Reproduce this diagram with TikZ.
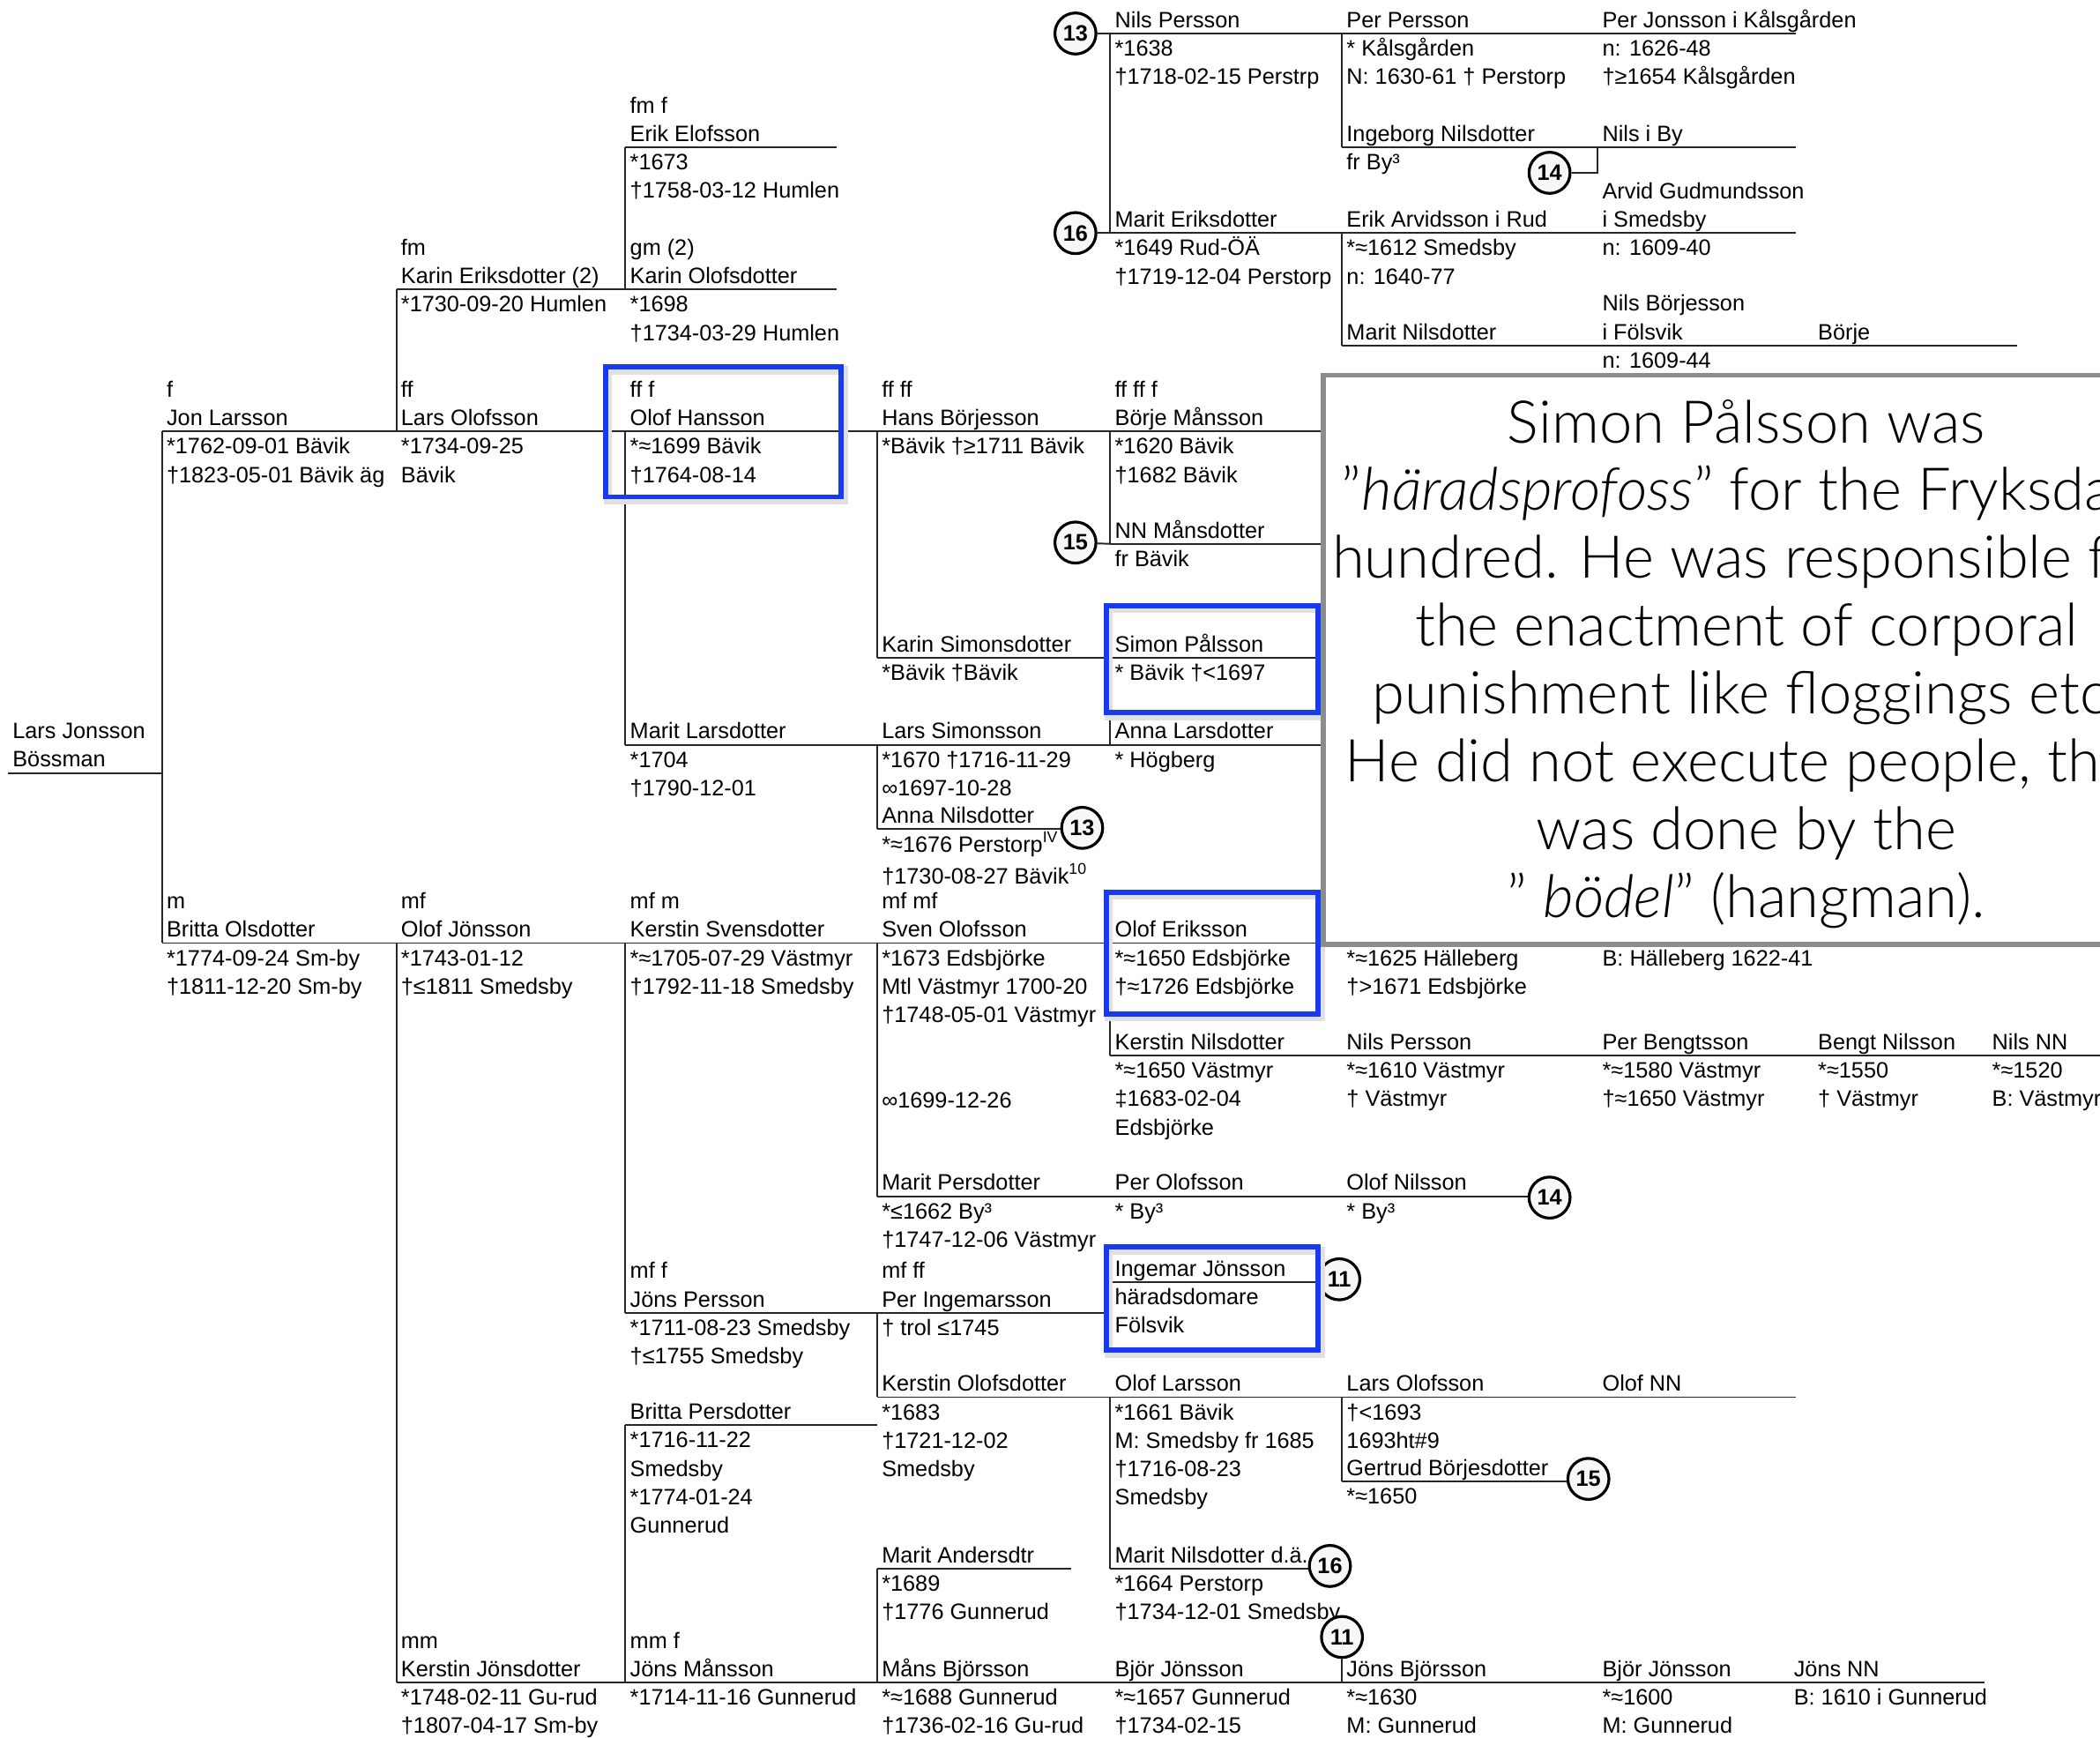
\documentclass[tikz,border=0pt]{standalone}
\usepackage{fontspec}
\setmainfont{Liberation Sans}
\IfFontExistsTF{Lato Light}{%
  \IfFontExistsTF{Lato Light Italic}%
    {\newfontfamily\notefamily{Lato Light}[ItalicFont={Lato Light Italic}]}%
    {\newfontfamily\notefamily{Lato Light}}%
  \newcommand{\notesize}{\fontsize{18.8}{21.6}\selectfont}}%
  {\newfontfamily\notefamily{Liberation Sans}%
  \newcommand{\notesize}{\fontsize{17.9}{21.6}\selectfont}}
\definecolor{hiblue}{RGB}{24,58,240}
\definecolor{notegray}{RGB}{138,140,142}
\newcommand{\chartfont}{\fontsize{7.1}{9.07}\selectfont}
\newcommand{\notefont}{\notefamily\notesize}
\tikzstyle{tie} = [draw, line width=0.55pt, color=black!85]
\tikzstyle{person} = [anchor=south west, inner sep=0pt, align=left, font=\chartfont]
\tikzstyle{info} = [person, anchor=north west]
\tikzstyle{refno} = [draw, circle, line width=0.9pt, fill=gray!6, inner sep=0pt, minimum size=0.46cm, font=\chartfont\bfseries]
\tikzstyle{hilite} = [draw=hiblue, line width=1.6pt]
\tikzstyle{hishade} = [draw=black!12, line width=2.6pt]
\tikzstyle{note} = [draw=notegray, fill=white, line width=1.5pt]
\tikzstyle{notetext} = [align=center, inner sep=0pt, font=\notefont]
\newcommand{\pers}[6]{
  \coordinate (#1) at (#2,#3);
  \coordinate (#1e) at (#4,#3);
  \path [tie] (#1) -- (#1e);
  \node (#1n) [person] at ({#2+3},{#3+2.4}) {\strut #5\strut};
  \node (#1d) [info] at ({#2+3},{#3+1.5}) {\strut #6\strut};}
\newcommand{\circno}[3]{
  \node (#1) [refno] at (#2) {#3};}
\newcommand{\hibox}[4]{
  \draw [hishade] ({#1+2},{#2+2.5}) rectangle ({#3+2},{#4+2.5});
  \draw [hilite] (#1,#2) rectangle (#3,#4);}

\begin{document}
\begin{tikzpicture}[x=0.015cm, y=-0.015cm]
  \useasboundingbox (0,0) rectangle (1568,1297);
  \fill [white] (0,0) rectangle (1568,1297);
  \clip (0,0) rectangle (1568,1297);

  % Draw persons, upper half
  \pers{larsJ}{6}{577}{121}{Lars Jonsson\\Bössman}{}
  \pers{jonL}{121}{322}{296}{f\\Jon Larsson}{*1762-09-01 Bävik\\†1823-05-01 Bävik äg}
  \pers{larsO}{296}{322}{467}{ff\\Lars Olofsson}{*1734-09-25\\Bävik}
  \pers{karinE}{296}{216}{467}{fm\\Karin Eriksdotter (2)}{*1730-09-20 Humlen}
  \pers{erikE}{467}{110}{625}{fm f\\Erik Elofsson}{*1673\\†1758-03-12 Humlen}
  \pers{karinO}{467}{216}{625}{gm (2)\\Karin Olofsdotter}{*1698\\†1734-03-29 Humlen}
  \pers{olofH}{467}{322}{655}{ff f\\Olof Hansson}{*≈1699 Bävik\\†1764-08-14}
  \pers{hansB}{655}{322}{829}{ff ff\\Hans Börjesson}{*Bävik †≥1711 Bävik}
  \pers{borjeM}{829}{322}{988}{ff ff f\\Börje Månsson}{*1620 Bävik\\†1682 Bävik}
  \pers{nnM}{829}{406}{988}{NN Månsdotter}{fr Bävik}
  \pers{karinS}{655}{491}{829}{Karin Simonsdotter}{*Bävik †Bävik}
  \pers{simonP}{829}{491}{988}{Simon Pålsson}{* Bävik †<1697}
  \pers{maritL}{467}{556}{655}{Marit Larsdotter}{*1704\\†1790-12-01}
  \pers{larsS}{655}{556}{829}{Lars Simonsson}{*1670 †1716-11-29\\∞1697-10-28}
  \pers{annaL}{829}{556}{988}{Anna Larsdotter}{* Högberg}
  \pers{annaN}{655}{619}{808}{Anna Nilsdotter}{*≈1676 Perstorp\textsuperscript{IV}\\†1730-08-27 Bävik\textsuperscript{10}}
  \pers{nilsP}{829}{25}{1002}{Nils Persson}{*1638\\†1718-02-15 Perstrp}
  \pers{perP}{1002}{25}{1193}{Per Persson}{* Kålsgården\\N: 1630-61 † Perstorp}
  \pers{perJ}{1193}{25}{1341}{Per Jonsson i Kålsgården}{n: 1626-48\\†≥1654 Kålsgården}
  \pers{ingebN}{1002}{110}{1193}{Ingeborg Nilsdotter}{fr By³}
  \pers{nilsBy}{1193}{110}{1341}{Nils i By}{}
  \pers{maritEr}{829}{174}{1002}{Marit Eriksdotter}{*1649 Rud-ÖÄ\\†1719-12-04 Perstorp}
  \pers{erikA}{1002}{174}{1193}{Erik Arvidsson i Rud}{*≈1612 Smedsby\\n: 1640-77}
  \pers{arvidG}{1193}{174}{1341}{Arvid Gudmundsson\\i Smedsby}{n: 1609-40}
  \pers{maritN}{1002}{258}{1193}{Marit Nilsdotter}{}
  \pers{nilsB}{1193}{258}{1354}{Nils Börjesson\\i Fölsvik}{n: 1609-44}
  \pers{borje}{1354}{258}{1506}{Börje}{}

  % Draw persons, lower half
  \pers{brittaO}{121}{704}{296}{m\\Britta Olsdotter}{*1774-09-24 Sm-by\\†1811-12-20 Sm-by}
  \pers{olofJ}{296}{704}{467}{mf\\Olof Jönsson}{*1743-01-12\\†≤1811 Smedsby}
  \pers{kerstinS}{467}{704}{655}{mf m\\Kerstin Svensdotter}{*≈1705-07-29 Västmyr\\†1792-11-18 Smedsby}
  \pers{svenO}{655}{704}{829}{mf mf\\Sven Olofsson}{*1673 Edsbjörke\\Mtl Västmyr 1700-20\\†1748-05-01 Västmyr}
  \node (svenOm) [info] at (658,812) {\strut ∞1699-12-26\strut};
  \pers{olofE}{829}{704}{1002}{Olof Eriksson}{*≈1650 Edsbjörke\\†≈1726 Edsbjörke}
  \pers{olofEf}{1002}{704}{1193}{}{*≈1625 Hälleberg\\†>1671 Edsbjörke}
  \pers{olofEff}{1193}{704}{1341}{}{B: Hälleberg 1622-41}
  \pers{kerstinN}{829}{788}{1002}{Kerstin Nilsdotter}{*≈1650 Västmyr\\‡1683-02-04\\Edsbjörke}
  \pers{nilsP2}{1002}{788}{1193}{Nils Persson}{*≈1610 Västmyr\\† Västmyr}
  \pers{perB}{1193}{788}{1354}{Per Bengtsson}{*≈1580 Västmyr\\†≈1650 Västmyr}
  \pers{bengtN}{1354}{788}{1484}{Bengt Nilsson}{*≈1550\\† Västmyr}
  \pers{nilsNN}{1484}{788}{1568}{Nils NN}{*≈1520\\B: Västmyr}
  \pers{maritP}{655}{893}{829}{Marit Persdotter}{*≤1662 By³\\†1747-12-06 Västmyr}
  \pers{perO}{829}{893}{1002}{Per Olofsson}{* By³}
  \pers{olofN}{1002}{893}{1157}{Olof Nilsson}{* By³}
  \pers{ingemarJ}{829}{957}{1000}{Ingemar Jönsson}{häradsdomare\\Fölsvik}
  \pers{jonsP}{467}{980}{655}{mf f\\Jöns Persson}{*1711-08-23 Smedsby\\†≤1755 Smedsby}
  \pers{perI}{655}{980}{829}{mf ff\\Per Ingemarsson}{† trol ≤1745}
  \pers{kerstinO}{655}{1043}{829}{Kerstin Olofsdotter}{*1683\\†1721-12-02\\Smedsby}
  \pers{olofL}{829}{1043}{1002}{Olof Larsson}{*1661 Bävik\\M: Smedsby fr 1685\\†1716-08-23\\Smedsby}
  \pers{larsO2}{1002}{1043}{1193}{Lars Olofsson}{†<1693\\1693ht\#9}
  \pers{olofNN}{1193}{1043}{1341}{Olof NN}{}
  \pers{brittaP}{467}{1064}{655}{Britta Persdotter}{*1716-11-22\\Smedsby\\*1774-01-24\\Gunnerud}
  \pers{gertrudB}{1002}{1106}{1186}{Gertrud Börjesdotter}{*≈1650}
  \pers{maritA}{655}{1171}{800}{Marit Andersdtr}{*1689\\†1776 Gunnerud}
  \pers{maritNda}{829}{1171}{993}{Marit Nilsdotter d.ä.}{*1664 Perstorp\\†1734-12-01 Smedsby}
  \pers{kerstinJ}{296}{1256}{467}{mm\\Kerstin Jönsdotter}{*1748-02-11 Gu-rud\\†1807-04-17 Sm-by}
  \pers{jonsM}{467}{1256}{655}{mm f\\Jöns Månsson}{*1714-11-16 Gunnerud}
  \pers{mansB}{655}{1256}{829}{Måns Björsson}{*≈1688 Gunnerud\\†1736-02-16 Gu-rud}
  \pers{bjorJ}{829}{1256}{1002}{Björ Jönsson}{*≈1657 Gunnerud\\†1734-02-15}
  \pers{jonsB}{1002}{1256}{1193}{Jöns Björsson}{*≈1630\\M: Gunnerud}
  \pers{bjorJ2}{1193}{1256}{1336}{Björ Jönsson}{*≈1600\\M: Gunnerud}
  \pers{jonsNN}{1336}{1256}{1482}{Jöns NN}{B: 1610 i Gunnerud}

  % Draw reference circles
  \circno{c13a}{803,25}{13}
  \circno{c16a}{803,174}{16}
  \circno{c14a}{1157,129}{14}
  \circno{c15a}{803,405}{15}
  \circno{c13b}{808,618}{13}
  \circno{c14b}{1157,894}{14}
  \circno{c11a}{1000,955}{11}
  \circno{c15b}{1186,1104}{15}
  \circno{c16b}{993,1169}{16}
  \circno{c11b}{1002,1222}{11}

  % Draw lines between parents
  \path [tie] (jonL) -- (brittaO);
  \path [tie] (karinE) -- (larsO);
  \path [tie] (olofJ) -- (kerstinJ);
  \path [tie] (erikE) -- (karinO);
  \path [tie] (olofH) -- (maritL);
  \path [tie] (kerstinS) -- (jonsP);
  \path [tie] (brittaP) -- (jonsM);
  \path [tie] (hansB) -- (karinS);
  \path [tie] (larsS) -- (annaN);
  \path [tie] (svenO) -- (maritP);
  \path [tie] (perI) -- (kerstinO);
  \path [tie] (maritA) -- (mansB);
  \path [tie] (nilsP) -- (maritEr);
  \path [tie] (borjeM) -- (nnM);
  \path [tie] (simonP) -- (annaL);
  \path [tie] (olofE) -- (kerstinN);
  \path [tie] (ingemarJ) -- (perIe);
  \path [tie] (olofL) -- (maritNda);
  \path [tie] (perP) -- (ingebN);
  \path [tie] (erikA) -- (maritN);
  \path [tie] (larsO2) -- (gertrudB);
  \path [tie] (c11b) -- (jonsB);
  \path [tie] (c14a) -- (c14a -| nilsBy) -- (nilsBy);
  \path [tie] (c13a) -- (nilsP);
  \path [tie] (c16a) -- (maritEr);
  \path [tie] (c15a) -- (nnM);

  % Draw highlights
  \hibox{452}{274}{628}{371}
  \hibox{826}{452}{984}{532}
  \hibox{826}{666}{984}{757}
  \hibox{826}{931}{984}{1008}

  % Draw the note
  \draw [note] (988,280) rectangle (1640,705);
  \node (noteText) [notetext] at (1304,497.5) {\strut Simon Pålsson was\\
    ”\textit{häradsprofoss}” for the Fryksdals\\
    hundred. He was responsible for\\
    the enactment of corporal\\
    punishment like floggings etc.\\
    He did not execute people, that\\
    was done by the\\
    ” \textit{bödel}” (hangman).\strut};

\end{tikzpicture}
\end{document}
